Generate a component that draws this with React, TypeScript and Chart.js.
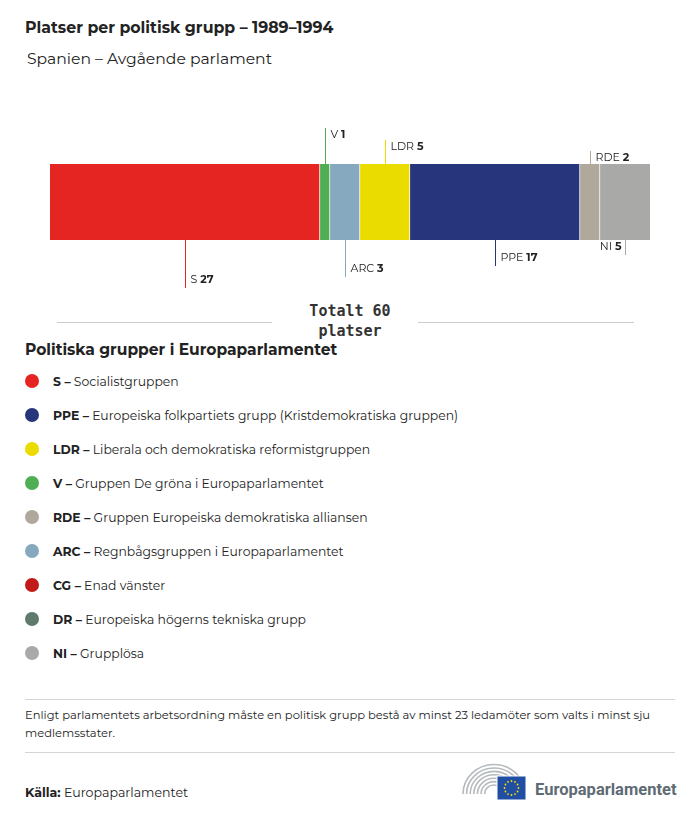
import React, { useEffect, useRef } from "react";
import { Chart, registerables } from "chart.js";

Chart.register(...registerables);

const parties = ["S", "V", "ARC", "LDR", "PPE", "RDE", "NI"];
const seats = [27, 1, 3, 5, 17, 2, 5];
const partyColors = ["#e52521", "#4fad53", "#86a9bf", "#ebdc00", "#27357c", "#b0a89a", "#a9a9a7"];

const legendCodes = ["S", "PPE", "LDR", "V", "RDE", "ARC", "CG", "DR", "NI"];
const legendNames = [
  "Socialistgruppen",
  "Europeiska folkpartiets grupp (Kristdemokratiska gruppen)",
  "Liberala och demokratiska reformistgruppen",
  "Gruppen De gröna i Europaparlamentet",
  "Gruppen Europeiska demokratiska alliansen",
  "Regnbågsgruppen i Europaparlamentet",
  "Enad vänster",
  "Europeiska högerns tekniska grupp",
  "Grupplösa",
];
const legendColors = ["#e52521", "#27357c", "#ebdc00", "#4fad53", "#b0a89a", "#86a9bf", "#c2191b", "#5f7a6c", "#a9a9a7"];

const totalSeats = seats.reduce((a, b) => a + b, 0);

// label placement: side and leader-line length in px
const placement: Record<string, { side: "up" | "down"; len: number; left?: boolean }> = {
  S: { side: "down", len: 48 },
  V: { side: "up", len: 36 },
  ARC: { side: "down", len: 37 },
  LDR: { side: "up", len: 24 },
  PPE: { side: "down", len: 26 },
  RDE: { side: "up", len: 13 },
  NI: { side: "down", len: 15, left: true },
};

const FONT = "Montserrat, 'Open Sans', 'Noto Sans', sans-serif";

const leaderPlugin = {
  id: "leaders",
  afterDatasetsDraw(chart: any) {
    const ctx = chart.ctx;
    const xs = chart.scales.x;
    const area = chart.chartArea;
    let cum = 0;
    ctx.save();
    parties.forEach((p, i) => {
      const v = seats[i];
      const x0 = xs.getPixelForValue(cum);
      const x1 = xs.getPixelForValue(cum + v);
      cum += v;
      const cx = Math.round((x0 + x1) / 2) + 0.5;
      const pl = placement[p];
      ctx.strokeStyle = partyColors[i];
      ctx.lineWidth = 1;
      ctx.beginPath();
      let ty: number;
      if (pl.side === "up") {
        ctx.moveTo(cx, area.top);
        ctx.lineTo(cx, area.top - pl.len);
        ty = area.top - pl.len + 7;
      } else {
        ctx.moveTo(cx, area.bottom);
        ctx.lineTo(cx, area.bottom + pl.len);
        ty = area.bottom + pl.len - 8;
      }
      ctx.stroke();
      ctx.textBaseline = "middle";
      ctx.fillStyle = "#222";
      const nameFont = `400 11px ${FONT}`;
      const valFont = `700 11px ${FONT}`;
      const name = p + " ";
      const val = String(v);
      ctx.font = nameFont;
      const wn = ctx.measureText(name).width;
      ctx.font = valFont;
      const wv = ctx.measureText(val).width;
      const tx = pl.left ? cx - 4 - wn - wv : cx + 5;
      ctx.textAlign = "left";
      ctx.font = nameFont;
      ctx.fillText(name, tx, ty);
      ctx.font = valFont;
      ctx.fillText(val, tx + wn, ty);
    });
    ctx.restore();
  },
};

function BarChart() {
  const ref = useRef<HTMLCanvasElement>(null);
  useEffect(() => {
    if (!ref.current) return;
    const chart = new Chart(ref.current, {
      type: "bar",
      data: {
        labels: [""],
        datasets: parties.map((p, i) => ({
          label: p,
          data: [seats[i]],
          backgroundColor: partyColors[i],
          borderColor: "#ffffff",
          borderWidth: i < parties.length - 1 ? { right: 1, left: 0, top: 0, bottom: 0 } : 0,
          borderSkipped: false,
          barPercentage: 1,
          categoryPercentage: 1,
        })),
      },
      options: {
        indexAxis: "y",
        responsive: false,
        animation: false,
        devicePixelRatio: 1,
        layout: { padding: { left: 50, right: 50, top: 164, bottom: 60 } },
        plugins: { legend: { display: false }, tooltip: { enabled: false } },
        scales: {
          x: { stacked: true, display: false, min: 0, max: totalSeats },
          y: { stacked: true, display: false },
        },
      },
      plugins: [leaderPlugin],
    } as any);
    return () => chart.destroy();
  }, []);
  return <canvas ref={ref} width={700} height={300} style={{ position: "absolute", left: 0, top: 0, width: 700, height: 300 }} />;
}

function Logo() {
  const arcs = [];
  for (let k = 0; k < 7; k++) {
    const r = 31 - k * 3.6;
    arcs.push(
      <path key={k} d={`M ${33 - r} 34 A ${r} ${r * 0.95} 0 0 1 ${33 + r} 34`} fill="none" stroke="#b5babe" strokeWidth={1.6} />
    );
  }
  const stars = [];
  for (let s = 0; s < 12; s++) {
    const a = (s / 12) * Math.PI * 2;
    stars.push(<circle key={s} cx={50.5 + 7 * Math.cos(a)} cy={28 + 7 * Math.sin(a)} r={0.9} fill="#ffdd00" />);
  }
  return (
    <div style={{ position: "absolute", left: 461, top: 760, width: 220, height: 44 }}>
      <svg width={70} height={44} style={{ position: "absolute", left: 0, top: 0 }}>
        {arcs}
        <rect x={36} y={16} width={29} height={24} fill="#1f4ea3" stroke="#fff" strokeWidth={1} />
        {stars}
      </svg>
      <div style={{ position: "absolute", left: 74, top: 20, fontFamily: "Roboto, sans-serif", fontWeight: 700, fontSize: 16.5, color: "#5f6b74", whiteSpace: "nowrap" }}>
        Europaparlamentet
      </div>
    </div>
  );
}

export default function App() {
  const txt = "#222";
  return (
    <div style={{ position: "absolute", left: 0, top: 0, width: 700, height: 820, background: "#fff", fontFamily: FONT, color: txt, overflow: "hidden" }}>
      <div style={{ position: "absolute", left: 25, top: 18, fontSize: 15.75, fontWeight: 700, whiteSpace: "nowrap" }}>
        Platser per politisk grupp – 1989–1994
      </div>
      <div style={{ position: "absolute", left: 27, top: 49, fontSize: 15.6, fontWeight: 400, whiteSpace: "nowrap" }}>
        Spanien – Avgående parlament
      </div>
      <BarChart />
      <div style={{ position: "absolute", left: 57, top: 322, width: 215, height: 1, background: "#ccc" }} />
      <div style={{ position: "absolute", left: 418, top: 322, width: 216, height: 1, background: "#ccc" }} />
      <div style={{ position: "absolute", left: 275, top: 301, width: 150, textAlign: "center", fontFamily: "'DejaVu Sans Mono', monospace", fontWeight: 700, fontSize: 15, lineHeight: "20px", color: "#333" }}>
        Totalt {totalSeats}
        <br />
        platser
      </div>
      <div style={{ position: "absolute", left: 25, top: 340, fontSize: 15.5, fontWeight: 700, whiteSpace: "nowrap" }}>
        Politiska grupper i Europaparlamentet
      </div>
      {legendCodes.map((c, i) => (
        <div key={c} style={{ position: "absolute", left: 25, top: 372 + i * 34, height: 18, display: "flex", alignItems: "center", whiteSpace: "nowrap" }}>
          <span style={{ display: "inline-block", width: 14, height: 14, borderRadius: 7, background: legendColors[i], marginRight: 14 }} />
          <span style={{ fontSize: 12.4 }}>
            <b>{c} –</b> {legendNames[i]}
          </span>
        </div>
      ))}
      <div style={{ position: "absolute", left: 25, top: 699, width: 650, height: 1, background: "#d5d5d5" }} />
      <div style={{ position: "absolute", left: 25, top: 706, width: 630, fontSize: 11.5, lineHeight: "18px" }}>
        Enligt parlamentets arbetsordning måste en politisk grupp bestå av minst 23 ledamöter som valts i minst sju medlemsstater.
      </div>
      <div style={{ position: "absolute", left: 25, top: 752, width: 650, height: 1, background: "#d5d5d5" }} />
      <div style={{ position: "absolute", left: 25, top: 785, fontSize: 12.6, whiteSpace: "nowrap" }}>
        <b>Källa:</b> Europaparlamentet
      </div>
      <Logo />
    </div>
  );
}
